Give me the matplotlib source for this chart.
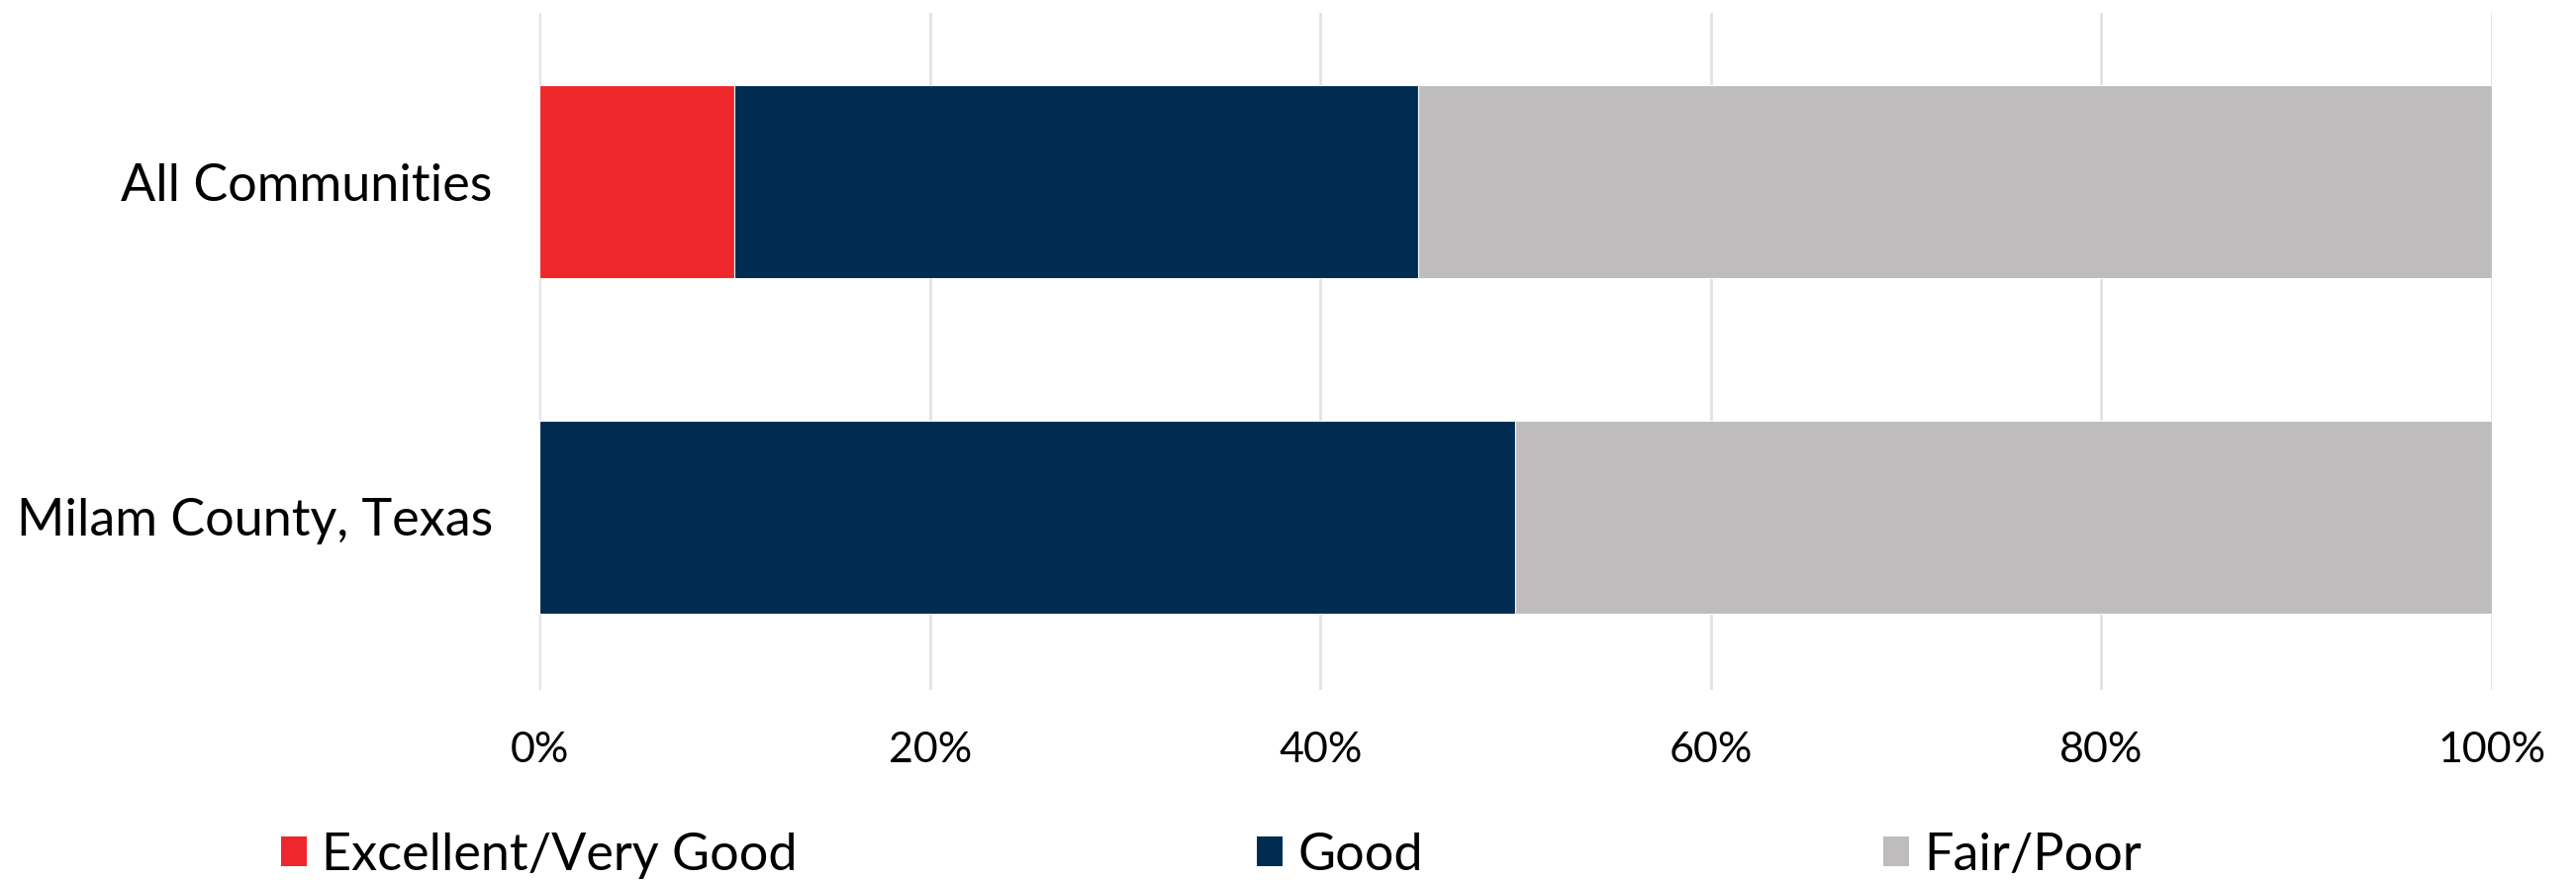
import matplotlib
matplotlib.use("Agg")
import matplotlib.pyplot as plt
from matplotlib.patches import Patch
from matplotlib.ticker import PercentFormatter

# data (shares of respondents, %)
categories = ["Milam County, Texas", "All Communities"]
excellent = [0, 10]
good = [50, 35]
fair_poor = [50, 55]
series_names = ["Excellent/Very Good", "Good", "Fair/Poor"]
colors = ["#ED272B", "#012C51", "#BEBCBD"]

plt.rcParams["font.family"] = ["Lato", "DejaVu Sans"]

fig = plt.figure(figsize=(26.03, 8.91), dpi=100)
ax = fig.add_axes([0.2094, 0.2177, 0.7579, 0.7677])

ypos = list(range(len(categories)))
left = [0] * len(categories)
for vals, name, col in zip([excellent, good, fair_poor], series_names, colors):
    ax.barh(ypos, vals, left=left, height=0.576, color=col, label=name,
            edgecolor="white", linewidth=0.8, zorder=3)
    left = [a + b for a, b in zip(left, vals)]

ax.set_xlim(0, 100)
ax.set_ylim(-0.517, 1.504)
ax.set_xticks([0, 20, 40, 60, 80, 100])
ax.xaxis.set_major_formatter(PercentFormatter(decimals=0))
ax.set_yticks(ypos)
ax.set_yticklabels(categories)
ax.tick_params(axis="both", length=0, colors="black")
ax.tick_params(axis="x", pad=30, labelsize=31)
ax.tick_params(axis="y", pad=34, labelsize=37.5)
ax.grid(axis="x", color="#E2E2E2", linewidth=2, zorder=0)
for s in ax.spines.values():
    s.set_visible(False)

# legend entries sit at uneven spots, so place them one by one
leg_x = [0.109, 0.488, 0.731]
for name, col, x in zip(series_names, colors, leg_x):
    fig.legend(handles=[Patch(facecolor=col, label=name)], loc="center left",
               bbox_to_anchor=(x, 0.03), frameon=False, fontsize=37.5,
               handlelength=0.5, handleheight=0.5, handletextpad=0.3,
               borderaxespad=0, borderpad=0)

fig.savefig("out.png", dpi=100)
